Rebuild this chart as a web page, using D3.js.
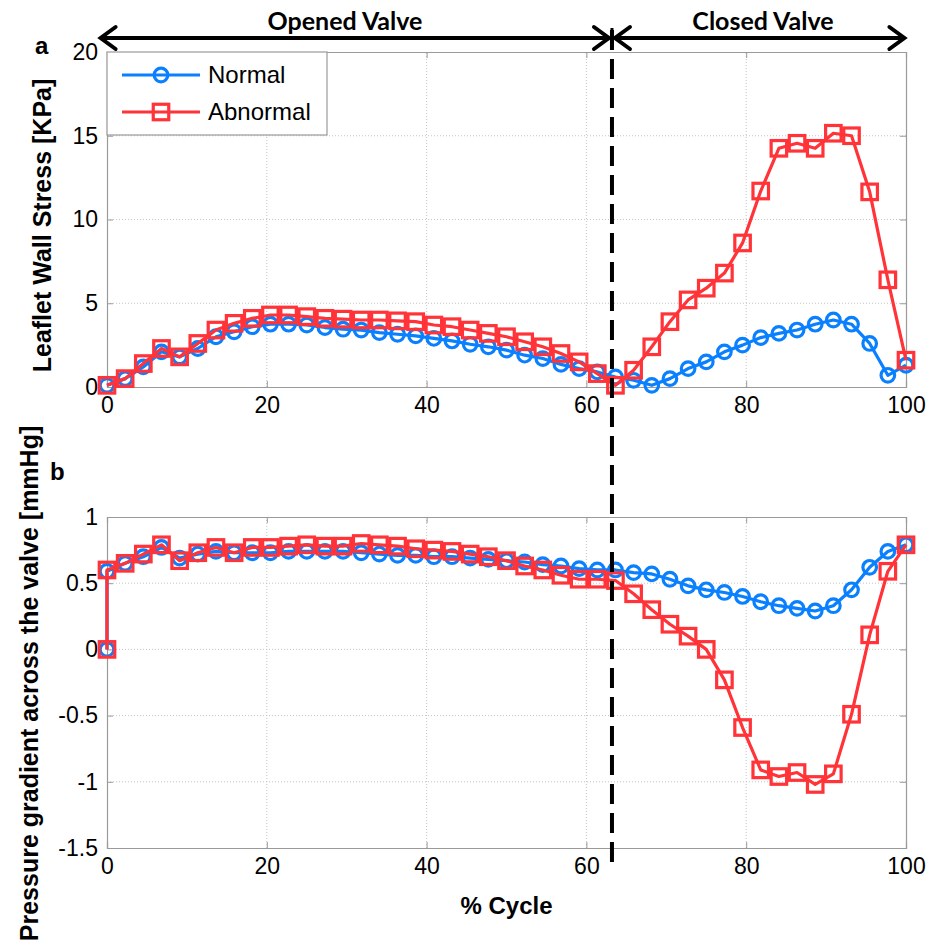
<!DOCTYPE html>
<html>
<head>
<meta charset="utf-8">
<script src="https://cdn.jsdelivr.net/npm/d3@7"></script>
<style>
html,body{margin:0;padding:0;background:#fff;}
svg{display:block;}
</style>
</head>
<body>
<svg id="chart" width="936" height="948"></svg>
<script>
// ---------- DATA ----------
const nPts = 45;                       // samples along % cycle (0..100)
const cycleTop = d3.range(nPts).map(i => i * 100 / (nPts - 1));
const cycleBottom = [0].concat(cycleTop);   // panel b starts with an extra point at 0

const stressNormal = [0.1, 0.5, 1.2, 2.1, 1.8, 2.3, 3.0, 3.3, 3.6, 3.75, 3.75, 3.7, 3.55, 3.45, 3.4,
  3.25, 3.15, 3.05, 2.9, 2.75, 2.55, 2.4, 2.2, 1.9, 1.7, 1.35, 1.1, 0.9, 0.6, 0.4,
  0.1, 0.5, 1.1, 1.5, 2.1, 2.5, 2.95, 3.2, 3.4, 3.75, 4.0, 3.75, 2.6, 0.7, 1.3];
const stressAbnormal = [0.1, 0.5, 1.4, 2.3, 1.8, 2.6, 3.4, 3.8, 4.1, 4.3, 4.3, 4.2, 4.1, 4.05, 4.0,
  4.0, 3.95, 3.9, 3.7, 3.6, 3.4, 3.2, 3.0, 2.7, 2.4, 2.0, 1.5, 0.8, 0.1, 1.0,
  2.4, 3.9, 5.2, 5.9, 6.8, 8.6, 11.7, 14.25, 14.55, 14.25, 15.15, 15.0, 11.65, 6.4, 1.6];

const gradNormal = [0, 0.59, 0.65, 0.70, 0.77, 0.69, 0.72, 0.74, 0.73, 0.73, 0.73, 0.74, 0.74, 0.74, 0.74,
  0.73, 0.72, 0.71, 0.71, 0.70, 0.70, 0.69, 0.68, 0.67, 0.66, 0.64, 0.63, 0.61, 0.60, 0.60,
  0.58, 0.57, 0.53, 0.48, 0.45, 0.43, 0.40, 0.36, 0.33, 0.31, 0.29, 0.33, 0.45, 0.62, 0.74, 0.79];
const gradAbnormal = [0, 0.60, 0.65, 0.72, 0.79, 0.67, 0.73, 0.77, 0.73, 0.77, 0.77, 0.78, 0.79, 0.78, 0.78,
  0.80, 0.79, 0.78, 0.76, 0.75, 0.74, 0.72, 0.70, 0.67, 0.63, 0.60, 0.56, 0.53, 0.53, 0.52,
  0.42, 0.30, 0.19, 0.10, 0.00, -0.23, -0.59, -0.91, -0.96, -0.93, -1.02, -0.94, -0.49, 0.11, 0.59, 0.79];

const xTicks = [0, 20, 40, 60, 80, 100];
const yTicksTop = [0, 5, 10, 15, 20];
const yTicksBottom = [-1.5, -1, -0.5, 0, 0.5, 1];
const yTickLabelsBottom = ["-1.5", "-1", "-0.5", "0", "0.5", "1"];
const valveBoundary = 63.2;             // % cycle where the valve closes
const seriesNames = ["Normal", "Abnormal"];
const phaseLabels = ["Opened Valve", "Closed Valve"];
const panelLabels = ["a", "b"];
const yTitles = ["Leaflet Wall Stress [KPa]", "Pressure gradient across the valve [mmHg]"];
const xTitle = "% Cycle";

// ---------- STYLE ----------
const BLUE = "#0a80ff", RED = "#ff3338";
const tickFont = "'Liberation Sans', Arial, sans-serif";

const svg = d3.select("#chart");
const L = 107, R = 906;
const x = d3.scaleLinear().domain([0, 100]).range([L, R]);
const yTop = d3.scaleLinear().domain([0, 20]).range([387, 52]);
const yBot = d3.scaleLinear().domain([-1.5, 1]).range([848, 517]);

function drawPanel(y, yTicks, fmt) {
  const g = svg.append("g");
  const [y0, y1] = y.range();
  // grid
  g.append("g").selectAll("line").data(xTicks.slice(1, -1)).join("line")
    .attr("x1", d => x(d)).attr("x2", d => x(d)).attr("y1", y0).attr("y2", y1)
    .attr("stroke", "#c4c4c4").attr("stroke-width", 1).attr("stroke-dasharray", "1,2");
  g.append("g").selectAll("line").data(yTicks.slice(1, -1)).join("line")
    .attr("x1", L).attr("x2", R).attr("y1", d => y(d)).attr("y2", d => y(d))
    .attr("stroke", "#c4c4c4").attr("stroke-width", 1).attr("stroke-dasharray", "1,2");
  // axes
  const ax = d3.axisBottom(x).tickValues(xTicks).tickSize(-6).tickPadding(10);
  g.append("g").attr("transform", `translate(0,${y0})`).call(ax);
  const axT = d3.axisTop(x).tickValues(xTicks).tickSize(-6).tickFormat("");
  g.append("g").attr("transform", `translate(0,${y1})`).call(axT);
  const ay = d3.axisLeft(y).tickValues(yTicks).tickSize(-6).tickPadding(9).tickFormat(fmt);
  g.append("g").attr("transform", `translate(${L},0)`).call(ay);
  const ayR = d3.axisRight(y).tickValues(yTicks).tickSize(-6).tickFormat("");
  g.append("g").attr("transform", `translate(${R},0)`).call(ayR);
  g.selectAll(".domain").attr("stroke", "#9a9a9a").attr("stroke-width", 1.2);
  g.selectAll(".tick line").attr("stroke", "#9a9a9a");
  g.selectAll(".tick text").attr("font-family", tickFont).attr("font-size", 23).attr("fill", "#000");
  return g;
}

function drawSeries(g, xs, ys, y, color, shape) {
  const pts = xs.map((v, i) => [x(v), y(ys[i])]);
  g.append("path").attr("d", d3.line()(pts)).attr("fill", "none")
    .attr("stroke", color).attr("stroke-width", 3.2).attr("stroke-linejoin", "round");
  if (shape === "circle") {
    g.append("g").selectAll("circle").data(pts).join("circle")
      .attr("cx", d => d[0]).attr("cy", d => d[1]).attr("r", 6.8)
      .attr("fill", "none").attr("stroke", color).attr("stroke-width", 3.2);
  } else {
    const s = 15.5;
    g.append("g").selectAll("rect").data(pts).join("rect")
      .attr("x", d => d[0] - s / 2).attr("y", d => d[1] - s / 2).attr("width", s).attr("height", s)
      .attr("fill", "none").attr("stroke", color).attr("stroke-width", 3.2);
  }
}

const gA = drawPanel(yTop, yTicksTop, d3.format("d"));
const gB = drawPanel(yBot, yTicksBottom, (d, i) => yTickLabelsBottom[i]);

drawSeries(gA, cycleTop, stressNormal, yTop, BLUE, "circle");
drawSeries(gA, cycleTop, stressAbnormal, yTop, RED, "square");
drawSeries(gB, cycleBottom, gradNormal, yBot, BLUE, "circle");
drawSeries(gB, cycleBottom, gradAbnormal, yBot, RED, "square");

// legend
const lg = svg.append("g");
lg.append("rect").attr("x", L).attr("y", 52).attr("width", 220).attr("height", 83)
  .attr("fill", "#fff").attr("stroke", "#9a9a9a").attr("stroke-width", 1.2);
[[BLUE, "circle", 75], [RED, "square", 112]].forEach(([c, sh, yy], i) => {
  lg.append("line").attr("x1", 122).attr("x2", 200).attr("y1", yy).attr("y2", yy)
    .attr("stroke", c).attr("stroke-width", 3.2);
  if (sh === "circle") lg.append("circle").attr("cx", 161).attr("cy", yy).attr("r", 6.8)
    .attr("fill", "none").attr("stroke", c).attr("stroke-width", 3.2);
  else lg.append("rect").attr("x", 161 - 7.75).attr("y", yy - 7.75).attr("width", 15.5).attr("height", 15.5)
    .attr("fill", "none").attr("stroke", c).attr("stroke-width", 3.2);
  lg.append("text").attr("x", 208).attr("y", yy + 8).text(seriesNames[i])
    .attr("font-family", tickFont).attr("font-size", 24).attr("fill", "#000");
});

// dashed boundary line
const xb = x(valveBoundary);
svg.append("line").attr("x1", xb).attr("x2", xb).attr("y1", 30).attr("y2", 866)
  .attr("stroke", "#000").attr("stroke-width", 4).attr("stroke-dasharray", "20,9");
svg.append("line").attr("x1", xb).attr("x2", xb).attr("y1", 28).attr("y2", 48)
  .attr("stroke", "#000").attr("stroke-width", 3);

// phase arrows
const ay0 = 38;
function arrow(xa, xz) {
  svg.append("line").attr("x1", xa).attr("x2", xz).attr("y1", ay0).attr("y2", ay0)
    .attr("stroke", "#000").attr("stroke-width", 4);
  [[xa, 1], [xz, -1]].forEach(([xt, dir]) => {
    svg.append("path").attr("d", `M${xt + dir * 15},${ay0 - 11} L${xt},${ay0} L${xt + dir * 15},${ay0 + 11}`)
      .attr("fill", "none").attr("stroke", "#000").attr("stroke-width", 4).attr("stroke-linecap", "round");
  });
}
arrow(x(-0.8), xb - 3);
arrow(xb + 3, x(99.8));
const phaseFont = "Lato, 'Open Sans', sans-serif";
svg.append("text").attr("x", 345).attr("y", 30).attr("text-anchor", "middle")
  .text(phaseLabels[0]).attr("font-family", phaseFont).attr("font-weight", "bold").attr("font-size", 25);
svg.append("text").attr("x", 763).attr("y", 30).attr("text-anchor", "middle")
  .text(phaseLabels[1]).attr("font-family", phaseFont).attr("font-weight", "bold").attr("font-size", 25);

// panel letters
svg.append("text").attr("x", 35).attr("y", 54).text(panelLabels[0])
  .attr("font-family", tickFont).attr("font-weight", "bold").attr("font-size", 24);
svg.append("text").attr("x", 50).attr("y", 480).text(panelLabels[1])
  .attr("font-family", tickFont).attr("font-weight", "bold").attr("font-size", 24);

// axis titles
svg.append("text").attr("transform", `translate(51,${(387 + 52) / 2 + 6}) rotate(-90)`)
  .attr("text-anchor", "middle").text(yTitles[0])
  .attr("font-family", tickFont).attr("font-weight", "bold").attr("font-size", 25);
svg.append("text").attr("transform", `translate(38,${(848 + 517) / 2 + 1}) rotate(-90)`)
  .attr("text-anchor", "middle").text(yTitles[1])
  .attr("font-family", tickFont).attr("font-weight", "bold").attr("font-size", 25);
svg.append("text").attr("x", (L + R) / 2).attr("y", 914).attr("text-anchor", "middle").text(xTitle)
  .attr("font-family", tickFont).attr("font-weight", "bold").attr("font-size", 24);
</script>
</body>
</html>
